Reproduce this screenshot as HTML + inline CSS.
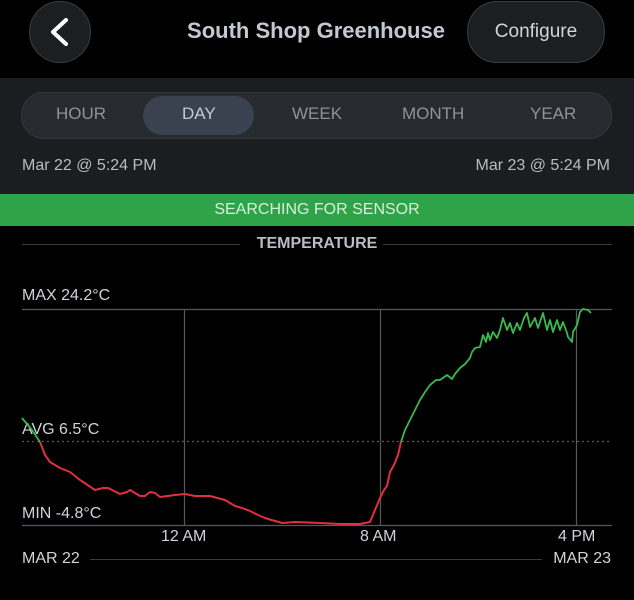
<!DOCTYPE html>
<html><head><meta charset="utf-8"><style>
body{margin:0;width:634px;height:600px;background:#000;overflow:hidden;font-family:"Liberation Sans",sans-serif;position:relative}
.a{position:absolute}
</style></head><body>
<div class="a" style="left:29px;top:1px;width:60px;height:60px;border-radius:50%;background:#1c1e20;border:1px solid #3a3d40"></div>
<svg class="a" style="left:0;top:0" width="634" height="600">
<polyline points="66,20 53,32 66,44" fill="none" stroke="#fff" stroke-width="4" stroke-linecap="round" stroke-linejoin="round"/>
</svg>
<div class="a" style="left:0;top:18px;width:632px;text-align:center;font-size:22px;font-weight:bold;color:#c3c9d0">South Shop Greenhouse</div>
<div class="a" style="left:467px;top:1px;width:136px;height:60px;border-radius:30px;background:#1c1e20;border:1px solid #3a3d40;color:#d0d4d8;font-size:19px;line-height:60px;text-align:center">Configure</div>
<div class="a" style="left:0;top:78px;width:634px;height:116px;background:#1b1d20"></div>
<div class="a" style="left:21px;top:92px;width:589px;height:45px;border-radius:23px;background:#272a2f;border:1px solid #34383d"></div>
<div class="a" style="left:143px;top:96px;width:111px;height:39px;border-radius:20px;background:#3a4250"></div>
<div class="a" style="top:104px;left:0;width:634px;font-size:17px;color:#8d939a">
<span class="a" style="left:56px">HOUR</span><span class="a" style="left:182px;color:#c5cad0">DAY</span><span class="a" style="left:292px">WEEK</span><span class="a" style="left:402px">MONTH</span><span class="a" style="left:530px">YEAR</span></div>
<div class="a" style="left:22px;top:157px;font-size:16px;color:#b8bdc2">Mar 22 @ 5:24 PM</div>
<div class="a" style="right:24px;top:157px;font-size:16px;color:#b8bdc2">Mar 23 @ 5:24 PM</div>
<div class="a" style="left:0;top:194px;width:634px;height:32px;background:#2fa347;color:#d8f0dc;font-size:16px;line-height:32px;text-align:center">SEARCHING FOR SENSOR</div>
<div class="a" style="left:0;top:235px;width:634px;text-align:center;font-size:16px;font-weight:bold;color:#b8bdc2">TEMPERATURE</div>
<div class="a" style="left:22px;top:287px;font-size:16px;color:#d0d4d8">MAX 24.2°C</div>
<div class="a" style="left:22px;top:421px;font-size:16px;color:#d0d4d8">AVG 6.5°C</div>
<div class="a" style="left:22px;top:505px;font-size:16px;color:#d0d4d8">MIN -4.8°C</div>
<div class="a" style="left:161px;top:528px;font-size:16px;color:#d0d4d8">12 AM</div>
<div class="a" style="left:360px;top:528px;font-size:16px;color:#d0d4d8">8 AM</div>
<div class="a" style="left:558px;top:528px;font-size:16px;color:#d0d4d8">4 PM</div>
<div class="a" style="left:22px;top:550px;font-size:16px;color:#d0d4d8">MAR 22</div>
<div class="a" style="right:23px;top:550px;font-size:16px;color:#d0d4d8">MAR 23</div>
<svg class="a" style="left:0;top:0" width="634" height="600">
<g stroke="#3a3d40" stroke-width="1">
<line x1="22" y1="244.5" x2="240" y2="244.5"/><line x1="383" y1="244.5" x2="612" y2="244.5"/>
<line x1="90" y1="559.5" x2="542" y2="559.5"/>
</g>
<g stroke="#55585c" stroke-width="1.2">
<line x1="22" y1="309.5" x2="612" y2="309.5"/><line x1="22" y1="525.5" x2="612" y2="525.5"/>
<line x1="184.5" y1="309" x2="184.5" y2="525"/><line x1="380.5" y1="309" x2="380.5" y2="525"/><line x1="576.5" y1="309" x2="576.5" y2="525"/>
<line x1="22" y1="441.5" x2="612" y2="441.5" stroke-dasharray="2,3"/>
</g>
<polyline fill="none" stroke="#3cb84f" stroke-width="1.8" points="22,418 32,430 40,442"/>
<polyline fill="none" stroke="#e0303f" stroke-width="2" stroke-linejoin="round" points="40,442 45,455 50,462 60,468 70,472 80,480 95,490 103,488 108,488 120,494 127,492 130,490 140,496 145,496 150,492 155,493 160,497 175,495 185,494 195,496 210,496 225,500 235,506 242,508 250,511 258,515 265,518 275,521 282,523 295,522 320,523 340,524 360,524 370,522 375,510 380,498 384,490 387,486 390,472 394,465 398,455 401,442"/>
<polyline fill="none" stroke="#3cb84f" stroke-width="1.8" stroke-linejoin="round" points="401,442 405,430 410,420 415,410 420,400 425,392 430,385 436,380 440,380 447,375 452,379 455,374 460,368 465,364 470,358 472,352 475,348 480,347 483,335 486,342 488,333 490,340 493,332 497,338 500,330 503,318 507,330 510,323 513,333 517,323 520,330 524,318 527,313 530,327 535,318 538,328 543,313 547,330 550,320 553,332 557,320 560,330 563,322 567,333 568,337 572,342 573,332 577,325 580,312 583,309 588,310 591,313"/>
</svg>
</body></html>
